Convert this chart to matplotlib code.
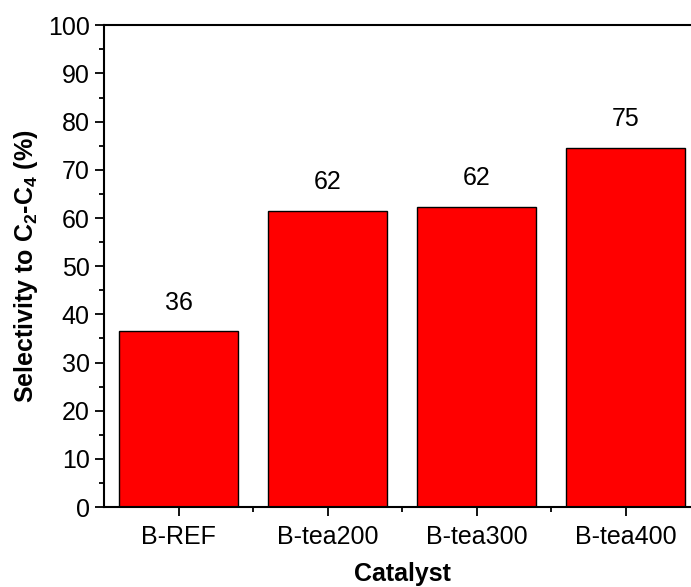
import matplotlib
matplotlib.use("Agg")
import matplotlib.pyplot as plt
from matplotlib.ticker import MultipleLocator, FixedLocator

categories = ["B-REF", "B-tea200", "B-tea300", "B-tea400"]
values = [36.5, 61.5, 62.3, 74.6]
labels = ["36", "62", "62", "75"]

plt.rcParams['font.family'] = ['Liberation Sans', 'DejaVu Sans']
plt.rcParams['mathtext.fontset'] = 'custom'
plt.rcParams['mathtext.rm'] = 'Liberation Sans'
plt.rcParams['mathtext.bf'] = 'Liberation Sans:bold'
plt.rcParams['mathtext.default'] = 'bf'

FS = 18

fig = plt.figure(figsize=(6.91, 5.87), dpi=100)
ax = fig.add_axes([0.151, 0.136, 0.8625, 0.821])

x = list(range(len(categories)))
ax.bar(x, values, width=0.8, color='#ff0000', edgecolor='black', linewidth=1.0)
for xi, v, lab in zip(x, values, labels):
    ax.annotate(lab, (xi, v), xytext=(0, 12), textcoords='offset points',
                ha='center', va='bottom', fontsize=FS)

ax.set_xlim(-0.5, 3.5)
ax.set_ylim(0, 100)
ax.set_xticks(x)
ax.set_xticklabels(categories)
ax.xaxis.set_minor_locator(FixedLocator([0.5, 1.5, 2.5]))
ax.yaxis.set_major_locator(MultipleLocator(10))
ax.yaxis.set_minor_locator(MultipleLocator(5))
ax.tick_params(axis='both', which='major', direction='out', length=6.5, width=1.3, labelsize=FS)
ax.tick_params(axis='y', which='major', pad=4)
ax.tick_params(axis='x', which='major', pad=6)
ax.tick_params(axis='both', which='minor', direction='out', length=3.6, width=1.3)
for s in ax.spines.values():
    s.set_linewidth(1.5)

ax.set_xlabel("Catalyst", fontsize=FS, fontweight='bold', labelpad=10)
ax.set_ylabel(r"Selectivity to C$_2$-C$_4$ (%)", fontsize=FS, fontweight='bold', labelpad=6)

fig.savefig("out.png", dpi=100)
